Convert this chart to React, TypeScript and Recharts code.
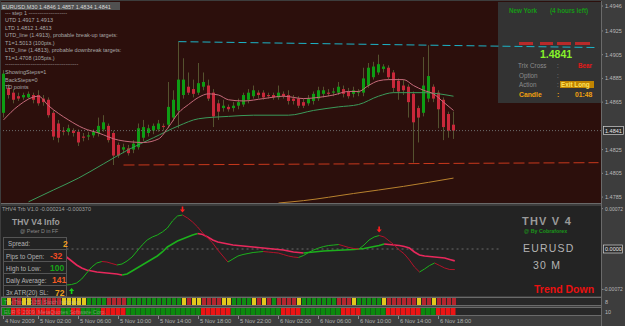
import React from 'react';
import { ComposedChart, BarChart, Bar, Line, XAxis, YAxis, ReferenceLine, Cell } from 'recharts';

const FONT = '"Liberation Sans", Arial, sans-serif';
const SLOTS = 120; // 91 bars + empty space on the right

// ---------- EURUSD M30 candles (bar 0 = 4 Nov 22:30) ----------
const opens = [
  1.4856, 1.4877, 1.4873, 1.4870, 1.4869, 1.4869, 1.4871, 1.4871, 1.4868, 1.4867,
  1.4856, 1.4847, 1.4841, 1.4840, 1.4841, 1.4840, 1.4836, 1.4836, 1.4837, 1.4839,
  1.4842, 1.4845, 1.4839, 1.4829, 1.4825, 1.4826, 1.4825, 1.4827, 1.4835, 1.4839,
  1.4841, 1.4842, 1.4845, 1.4846, 1.4852, 1.4858, 1.4871, 1.4878, 1.4876, 1.4873,
  1.4878, 1.4879, 1.4873, 1.4864, 1.4860, 1.4861, 1.4860, 1.4862, 1.4863, 1.4867,
  1.4870, 1.4873, 1.4873, 1.4871, 1.4871, 1.4869, 1.4872, 1.4871, 1.4868, 1.4868,
  1.4865, 1.4864, 1.4866, 1.4868, 1.4872, 1.4873, 1.4873, 1.4873, 1.4876, 1.4874,
  1.4872, 1.4873, 1.4873, 1.4879, 1.4886, 1.4890, 1.4893, 1.4894, 1.4890, 1.4883,
  1.4879, 1.4878, 1.4872, 1.4860, 1.4856, 1.4868, 1.4878, 1.4873, 1.4867, 1.4855,
  1.4846,
];
const highs = [
  1.4892, 1.4880, 1.4876, 1.4873, 1.4873, 1.4874, 1.4873, 1.4875, 1.4871, 1.4869,
  1.4858, 1.4850, 1.4844, 1.4846, 1.4843, 1.4842, 1.4839, 1.4840, 1.4842, 1.4852,
  1.4854, 1.4847, 1.4841, 1.4831, 1.4830, 1.4829, 1.4833, 1.4847, 1.4850, 1.4846,
  1.4847, 1.4850, 1.4847, 1.4882, 1.4875, 1.4916, 1.4902, 1.4890, 1.4884, 1.4898,
  1.4890, 1.4884, 1.4876, 1.4867, 1.4867, 1.4863, 1.4865, 1.4868, 1.4873, 1.4876,
  1.4879, 1.4875, 1.4875, 1.4873, 1.4873, 1.4879, 1.4874, 1.4875, 1.4871, 1.4870,
  1.4868, 1.4871, 1.4874, 1.4878, 1.4878, 1.4876, 1.4877, 1.4882, 1.4879, 1.4877,
  1.4878, 1.4876, 1.4894, 1.4898, 1.4899, 1.4905, 1.4897, 1.4896, 1.4892, 1.4885,
  1.4884, 1.4880, 1.4874, 1.4862, 1.4903, 1.4913, 1.4880, 1.4875, 1.4869, 1.4857,
  1.4857,
];
const lows = [
  1.4852, 1.4868, 1.4864, 1.4866, 1.4867, 1.4868, 1.4864, 1.4862, 1.4862, 1.4852,
  1.4833, 1.4831, 1.4837, 1.4837, 1.4836, 1.4828, 1.4832, 1.4833, 1.4835, 1.4836,
  1.4840, 1.4831, 1.4812, 1.4818, 1.4822, 1.4820, 1.4822, 1.4825, 1.4832, 1.4836,
  1.4838, 1.4840, 1.4841, 1.4843, 1.4849, 1.4843, 1.4868, 1.4871, 1.4869, 1.4871,
  1.4875, 1.4866, 1.4844, 1.4850, 1.4857, 1.4857, 1.4857, 1.4859, 1.4861, 1.4864,
  1.4868, 1.4868, 1.4867, 1.4868, 1.4867, 1.4867, 1.4868, 1.4863, 1.4863, 1.4860,
  1.4860, 1.4862, 1.4863, 1.4866, 1.4869, 1.4870, 1.4870, 1.4871, 1.4869, 1.4868,
  1.4869, 1.4870, 1.4870, 1.4877, 1.4884, 1.4888, 1.4890, 1.4884, 1.4873, 1.4867,
  1.4871, 1.4852, 1.4814, 1.4831, 1.4853, 1.4865, 1.4865, 1.4843, 1.4833, 1.4835,
  1.4834,
];
const closes = [
  1.4889, 1.4871, 1.4867, 1.4868, 1.4871, 1.4872, 1.4867, 1.4864, 1.4865, 1.4854,
  1.4836, 1.4835, 1.4840, 1.4843, 1.4839, 1.4831, 1.4835, 1.4837, 1.4840, 1.4845,
  1.4848, 1.4833, 1.4820, 1.4820, 1.4827, 1.4822, 1.4830, 1.4843, 1.4844, 1.4843,
  1.4845, 1.4847, 1.4844, 1.4861, 1.4867, 1.4884, 1.4884, 1.4873, 1.4872, 1.4881,
  1.4882, 1.4868, 1.4853, 1.4857, 1.4862, 1.4859, 1.4862, 1.4865, 1.4871, 1.4873,
  1.4875, 1.4871, 1.4869, 1.4870, 1.4869, 1.4873, 1.4870, 1.4866, 1.4866, 1.4862,
  1.4862, 1.4868, 1.4872, 1.4875, 1.4875, 1.4872, 1.4874, 1.4878, 1.4872, 1.4870,
  1.4875, 1.4874, 1.4885, 1.4894, 1.4895, 1.4897, 1.4895, 1.4886, 1.4877, 1.4874,
  1.4875, 1.4865, 1.4848, 1.4852, 1.4879, 1.4887, 1.4868, 1.4859, 1.4844, 1.4841,
  1.4841,
];

// moving averages, read as [bar, price] anchor points
const pinkMA: [number, number][] = [
  [0, 1.4850], [3, 1.4862], [7, 1.4870], [9, 1.4862], [13, 1.4850], [16, 1.4843], [19, 1.4839],
  [23, 1.4833], [28, 1.4831], [31, 1.4834], [33, 1.4844], [35, 1.4856], [37, 1.4863], [39, 1.4869],
  [41, 1.4872], [43, 1.4871], [45, 1.4867], [48, 1.4866], [52, 1.4868], [56, 1.4870], [60, 1.4868],
  [63, 1.4869], [66, 1.4871], [69, 1.4874], [71, 1.4874], [73, 1.4879], [75, 1.4883], [77, 1.4884],
  [80, 1.4884], [82, 1.4879], [84, 1.4875], [86, 1.4872], [88, 1.4865], [90, 1.4858],
];
const greenMA: [number, number][] = [
  [5, 1.4781], [10, 1.4791], [15, 1.4801], [20, 1.4813], [25, 1.4825], [30, 1.4835], [35, 1.4845],
  [39, 1.4851], [45, 1.4853], [50, 1.4854], [57, 1.4854], [62, 1.4858], [67, 1.4861], [71, 1.4863],
  [75, 1.4870], [78, 1.4873], [84, 1.4873], [90, 1.4870],
];
const orangeMA: [number, number][] = [
  [55, 1.4780], [60, 1.4782], [70, 1.4788], [80, 1.4794], [90, 1.4801],
];
const utdLine: [number, number][] = [[35, 1.4916], [119, 1.4911]];
const ltdLine: [number, number][] = [[24, 1.4812], [119, 1.4814]];
const bidPrice = 1.4841;
const priceTicks = [1.4946, 1.4925, 1.4905, 1.4885, 1.4865, 1.4825, 1.4805, 1.4785];

// ---------- THV Trix oscillator ----------
const N13 = [null, null, null, null, null, null, null, null, null, null, null, null, null];
const trixFast: (number | null)[] = [
  ...N13,
  -0.000648, -0.000639, -0.000612, -0.000540, -0.000432, -0.000324, -0.000252, -0.000225, -0.000234, -0.000261,
  -0.000288, -0.000270, -0.000216, -0.000144, -0.000036, 0.000072, 0.000162, 0.000216, 0.000252, 0.000306,
  0.000378, 0.000504, 0.000594, 0.000612, 0.000558, 0.000486, 0.000396, 0.000288, 0.000198, 0.000108,
  -0.000018, -0.000126, -0.000234, -0.000180, -0.000126, -0.000099, -0.000081, -0.000063, -0.000054, -0.000045,
  -0.000054, -0.000063, -0.000072, -0.000099, -0.000126, -0.000144, -0.000153, -0.000117, -0.000063, -0.000018,
  0.000018, 0.000045, 0.000063, 0.000072, 0.000081, 0.000054, 0.000027, 0.000009, 0.000000, 0.000072,
  0.000162, 0.000216, 0.000243, 0.000216, 0.000144, 0.000072, -0.000018, -0.000090, -0.000198, -0.000324,
  -0.000414, -0.000360, -0.000297, -0.000252, -0.000297, -0.000342, -0.000369, -0.000370,
];
const trixSlow: (number | null)[] = [
  ...N13,
  -0.000144, -0.000216, -0.000288, -0.000342, -0.000378, -0.000396, -0.000414, -0.000423, -0.000432, -0.000441,
  -0.000450, -0.000468, -0.000450, -0.000396, -0.000342, -0.000288, -0.000234, -0.000180, -0.000126, -0.000054,
  0.000036, 0.000090, 0.000144, 0.000180, 0.000216, 0.000252, 0.000279, 0.000261, 0.000216, 0.000162,
  0.000126, 0.000108, 0.000090, 0.000072, 0.000063, 0.000054, 0.000045, 0.000036, 0.000027, 0.000018,
  0.000009, 0.000000, -0.000009, -0.000018, -0.000036, -0.000054, -0.000063, -0.000072, -0.000063, -0.000054,
  -0.000045, -0.000036, -0.000032, -0.000027, -0.000022, -0.000018, -0.000014, -0.000009, 0.000000, 0.000009,
  0.000027, 0.000045, 0.000063, 0.000090, 0.000081, 0.000072, 0.000063, 0.000045, 0.000018, -0.000054,
  -0.000108, -0.000126, -0.000135, -0.000144, -0.000153, -0.000162, -0.000189, -0.000214,
];
const sellArrows: [number, number][] = [[36, 0.000711], [75, 0.000351]];
const buyArrows: [number, number][] = [[14, -0.000756]];
const indTicks = [0.000727, 0, -0.000727];
const indTickLabels = ['0.00072', '0.0000', '-0.00072'];

// ---------- state bars (G green, R red, Y yellow) ----------
const stateRow1 =
  'G' + 'Y' + 'RR' + 'YY' + 'RRRRRR' + 'YYYYY' + 'GGGG' + 'RRRR' + 'GGGGGGGGGGG' + 'Y' + 'R' + 'YY' +
  'RRRR' + 'YY' + 'GGGG' + 'Y' + 'R' + 'Y' + 'R' + 'G' + 'RRRR' + 'Y' + 'GGGGGGG' + 'RRR' + 'Y' +
  'GGGGG' + 'Y' + 'RRRRRR' + 'Y' + 'RR' + 'Y' + 'RRRR';
const stateRow2 =
  'GG' + 'RRRRRRRRRR' + 'GG' + 'RR' + 'GGGG' + 'RRRRR' + 'GGGGGGGGGGGGGGG' + 'RRRRRR' + 'GGGGGGGGGG' +
  'RRRR' + 'GGGGGGGG' + 'RRRR' + 'GGGGG' + 'RRRRRRR' + 'GGG' + 'RRRR';

const timeTickIdx = [0, 7, 15, 23, 31, 39, 47, 55, 63, 71, 79, 87];
const timeTickLabels = ['4 Nov 2009', '5 Nov 02:00', '5 Nov 06:00', '5 Nov 10:00', '5 Nov 14:00', '5 Nov 18:00',
  '5 Nov 22:00', '6 Nov 02:00', '6 Nov 06:00', '6 Nov 10:00', '6 Nov 14:00', '6 Nov 18:00'];

// ---------- data tables ----------
const priceData: any[] = Array.from({ length: SLOTS }, (_, k) => {
  const row: any = { k };
  if (k < opens.length) {
    row.o = opens[k]; row.h = highs[k]; row.l = lows[k]; row.c = closes[k];
    row.hl = [lows[k], highs[k]];
  }
  return row;
});
pinkMA.forEach(([k, v]) => { priceData[k].pink = v; });
greenMA.forEach(([k, v]) => { priceData[k].gma = v; });
orangeMA.forEach(([k, v]) => { priceData[k].oma = v; });
utdLine.forEach(([k, v]) => { priceData[k].utd = v; });
ltdLine.forEach(([k, v]) => { priceData[k].ltd = v; });

const indData: any[] = Array.from({ length: SLOTS }, (_, k) => ({ k }));
sellArrows.forEach(([k, v]) => { indData[k].sell = v; });
buyArrows.forEach(([k, v]) => { indData[k].buy = v; });

type Run = { key: string; dir: number; fast: boolean };
function addRuns(vals: (number | null)[], name: string, fast: boolean, out: Run[]) {
  let cur: Run | null = null;
  let n = 0;
  for (let i = 0; i < vals.length - 1; i++) {
    const a = vals[i], b = vals[i + 1];
    if (a == null || b == null) { cur = null; continue; }
    const dir = b >= a ? 1 : -1;
    if (!cur || cur.dir !== dir) {
      cur = { key: name + n++, dir, fast };
      out.push(cur);
      indData[i][cur.key] = a;
    }
    indData[i + 1][cur.key] = b;
  }
}
const runs: Run[] = [];
addRuns(trixSlow, 'slow', false, runs);
addRuns(trixFast, 'fast', true, runs);

const rowData = Array.from({ length: SLOTS }, (_, k) => ({
  k,
  one: k < stateRow1.length ? 1 : 0,
  s1: stateRow1[k] || '',
  s2: stateRow2[k] || '',
}));
const c1: Record<string, string> = { G: '#0f8c12', R: '#b4262e', Y: '#e2c81c', '': 'none' };
const c2: Record<string, string> = { G: '#0b8a0d', R: '#ee1414', '': 'none' };

// ---------- shapes ----------
const Candle = (props: any) => {
  const { x, y, width, height, payload } = props;
  if (!payload || payload.o == null) return null;
  const { o, h, l, c } = payload;
  const span = h - l;
  const py = (p: number) => (span > 0 ? y + ((h - p) / span) * height : y);
  const cx = x + width / 2;
  const top = py(Math.max(o, c));
  const bot = py(Math.min(o, c));
  const up = c > o;
  return (
    <g>
      <line x1={cx} x2={cx} y1={y} y2={y + height} stroke="#55522f" strokeWidth={1} />
      <rect x={x} y={top} width={width} height={Math.max(1, bot - top)} fill={up ? '#0e9c14' : '#c9283a'} />
    </g>
  );
};

const PriceTick = (p: any) => {
  const { x, y, payload } = p;
  const v = payload.value as number;
  if (v === bidPrice) {
    return (
      <g>
        <rect x={x - 1.5} y={y - 4} width={20} height={8} fill="#2e2e2e" stroke="#d0d0d0" strokeWidth={0.7} />
        <text x={x} y={y + 2} fontSize={5.5} fill="#e6e6e6" fontFamily={FONT}>{v.toFixed(4)}</text>
      </g>
    );
  }
  return (
    <g>
      <line x1={x - 4} x2={x - 2} y1={y} y2={y} stroke="#8a8a8a" />
      <text x={x} y={y + 2} fontSize={5.5} fill="#b8b8b8" fontFamily={FONT}>{v.toFixed(4)}</text>
    </g>
  );
};

const IndTick = (p: any) => {
  const { x, y, payload } = p;
  const v = payload.value as number;
  const label = indTickLabels[indTicks.indexOf(v)];
  if (v === 0) {
    return (
      <g>
        <rect x={x - 1.5} y={y - 4} width={19} height={8} fill="#2e2e2e" stroke="#d0d0d0" strokeWidth={0.7} />
        <text x={x} y={y + 2} fontSize={5.5} fill="#e6e6e6" fontFamily={FONT}>{label}</text>
      </g>
    );
  }
  return (
    <g>
      <line x1={x - 4} x2={x - 2} y1={y} y2={y} stroke="#8a8a8a" />
      <text x={v < 0 ? x - 2 : x} y={y + 2} fontSize={5} fill="#b8b8b8" fontFamily={FONT}>{label}</text>
    </g>
  );
};

const ArrowDown = (p: any) => {
  const { cx, cy, value, index } = p;
  if (value == null || cy == null || isNaN(cy)) return <g key={'ad' + index} />;
  return (
    <path key={'ad' + index} fill="#ff1e1e"
      d={`M${cx - 0.8},${cy - 3} L${cx + 0.8},${cy - 3} L${cx + 0.8},${cy} L${cx + 2.6},${cy} L${cx},${cy + 3} L${cx - 2.6},${cy} L${cx - 0.8},${cy} Z`} />
  );
};
const ArrowUp = (p: any) => {
  const { cx, cy, value, index } = p;
  if (value == null || cy == null || isNaN(cy)) return <g key={'au' + index} />;
  return (
    <path key={'au' + index} fill="#18d018"
      d={`M${cx - 0.8},${cy + 3} L${cx + 0.8},${cy + 3} L${cx + 0.8},${cy} L${cx + 2.6},${cy} L${cx},${cy - 3} L${cx - 2.6},${cy} L${cx - 0.8},${cy} Z`} />
  );
};

const TimeTick = (p: any) => {
  const { x, y, payload } = p;
  const i = timeTickIdx.indexOf(payload.value);
  if (i < 0) return null;
  return (
    <g>
      <line x1={x} x2={x} y1={y + 1} y2={y + 4} stroke="#8a8a8a" />
      <text x={x + 1.5} y={y + 8} fontSize={5.8} fill="#b0b0b0" fontFamily={FONT}>{timeTickLabels[i]}</text>
    </g>
  );
};

const T = ({ x, y, s = 5.5, c = '#a8a8a8', b = false, children, ls = 0, op = 1 }: any) => (
  <text x={x} y={y} fontSize={s} fill={c} fontWeight={b ? 'bold' : 'normal'} fontFamily={FONT}
    letterSpacing={ls} opacity={op}>{children}</text>
);

export default function App() {
  return (
    <div style={{ position: 'fixed', left: 0, top: 0, width: 625, height: 326, background: '#3d3d3d', overflow: 'hidden' }}>
      {/* backgrounds */}
      <svg width={625} height={326} style={{ position: 'absolute', left: 0, top: 0 }}>
        <rect x={1} y={1} width={600} height={202} fill="#2c0f0c" />
        <rect x={498} y={2} width={103} height={101} fill="#333333" />
        <rect x={1} y={206} width={600} height={90} fill="#232323" />
        <rect x={1} y={297} width={600} height={9} fill="#282828" />
        <rect x={1} y={307} width={600} height={9} fill="#282828" />
      </svg>

      {/* price chart */}
      <div style={{ position: 'absolute', left: 0, top: 0 }}>
        <ComposedChart width={625} height={204} data={priceData} margin={{ top: 2, right: 1, bottom: 1, left: 1 }}>
          <XAxis dataKey="k" hide />
          <YAxis orientation="right" width={23} domain={[1.478, 1.49494]} allowDataOverflow
            ticks={[...priceTicks, bidPrice]} interval={0} tick={<PriceTick />} axisLine={false}
            tickLine={false} tickSize={2} tickMargin={2} />
          <ReferenceLine y={bidPrice} stroke="#6e6e6e" strokeDasharray="1 2" />
          <Bar dataKey="hl" barSize={3} shape={<Candle />} isAnimationActive={false} />
          <Line dataKey="oma" stroke="#b8822e" dot={false} connectNulls type="monotone" isAnimationActive={false} />
          <Line dataKey="gma" stroke="#3b9a5a" dot={false} connectNulls type="monotone" isAnimationActive={false} />
          <Line dataKey="pink" stroke="#c56a7a" dot={false} connectNulls type="monotone" isAnimationActive={false} />
          <Line dataKey="ltd" stroke="#c8381c" strokeDasharray="11 4" dot={false} connectNulls type="linear" isAnimationActive={false} />
          <Line dataKey="utd" stroke="#1cb4c8" strokeDasharray="8 4" dot={false} connectNulls type="linear" isAnimationActive={false} />
        </ComposedChart>
      </div>

      {/* THV trix panel */}
      <div style={{ position: 'absolute', left: 0, top: 204 }}>
        <ComposedChart width={625} height={93} data={indData} margin={{ top: 2, right: 1, bottom: 1, left: 1 }}>
          <XAxis dataKey="k" hide />
          <YAxis orientation="right" width={23} domain={[-0.000846, 0.000774]} allowDataOverflow
            ticks={indTicks} interval={0} tick={<IndTick />} axisLine={false} tickLine={false}
            tickSize={2} tickMargin={2} />
          <ReferenceLine segment={[{ x: 13, y: 0 }, { x: 99, y: 0 }]} stroke="#6a6a6a" strokeDasharray="2 3" />
          {runs.map((r) => (
            <Line key={r.key} dataKey={r.key} dot={false} isAnimationActive={false} type="linear"
              stroke={r.dir > 0 ? '#1cb01c' : r.fast ? '#b3122a' : '#e8285c'}
              strokeWidth={r.fast ? 1 : 1.6} />
          ))}
          <Line dataKey="sell" stroke="none" dot={<ArrowDown />} activeDot={false} isAnimationActive={false} />
          <Line dataKey="buy" stroke="none" dot={<ArrowUp />} activeDot={false} isAnimationActive={false} />
        </ComposedChart>
      </div>

      {/* state row 1 */}
      <div style={{ position: 'absolute', left: 0, top: 298 }}>
        <BarChart width={625} height={7} data={rowData} margin={{ top: 0, right: 24, bottom: 0, left: 1 }}>
          <XAxis dataKey="k" hide />
          <YAxis hide domain={[0, 1]} />
          <Bar dataKey="one" barSize={4} isAnimationActive={false}>
            {rowData.map((r, i) => <Cell key={i} fill={c1[r.s1]} />)}
          </Bar>
        </BarChart>
      </div>

      {/* state row 2 + time axis */}
      <div style={{ position: 'absolute', left: 0, top: 308 }}>
        <BarChart width={625} height={18} data={rowData} margin={{ top: 0, right: 24, bottom: 0, left: 1 }}>
          <XAxis dataKey="k" height={11} ticks={timeTickIdx} interval={0} tick={<TimeTick />}
            axisLine={false} tickLine={false} tickSize={0} tickMargin={0} />
          <YAxis hide domain={[0, 1]} />
          <Bar dataKey="one" barSize={5} isAnimationActive={false}>
            {rowData.map((r, i) => <Cell key={i} fill={c2[r.s2]} />)}
          </Bar>
        </BarChart>
      </div>

      {/* texts and frames */}
      <svg width={625} height={326} style={{ position: 'absolute', left: 0, top: 0, pointerEvents: 'none' }}>
        <line x1={601.5} x2={601.5} y1={1} y2={326} stroke="#6a6a6a" />
        <line x1={1} x2={601} y1={203.5} y2={203.5} stroke="#6a6a6a" />
        <rect x={1.5} y={297.5} width={600} height={8} fill="none" stroke="#6a6a6a" />
        <rect x={1.5} y={307.5} width={600} height={8} fill="none" stroke="#6a6a6a" />

        {/* header & TD text */}
        <rect x={1} y={2} width={119} height={8} fill="#505050" />
        <T x={2} y={8.5} c="#d8d8d8">EURUSD,M30  1.4846 1.4857 1.4834 1.4841</T>
        <T x={5} y={15}>---    step 1    ---------------------</T>
        <T x={5} y={22}>UTD  1.4917  1.4913</T>
        <T x={5} y={29.5}>LTD  1.4812  1.4813</T>
        <T x={5} y={37}>UTD_line (1.4913), probable break-up targets:</T>
        <T x={5} y={44.5}>T1=1.5013 (100pts.)</T>
        <T x={5} y={52}>LTD_line (1.4813), probable downbreak targets:</T>
        <T x={5} y={59.5}>T1=1.4708 (105pts.)</T>
        <T x={5} y={66}>----------------------------------------</T>
        <T x={5} y={74}>ShowingSteps=1</T>
        <T x={5} y={81.5}>BackSteps=0</T>
        <T x={5} y={89}>TD points</T>

        {/* session panel */}
        <T x={509} y={13} s={6.3} b c="#169a16">New York</T>
        <T x={550} y={13} s={6.3} b c="#169a16">(4 hours left)</T>
        <rect x={519} y={42} width={14} height={3} fill="#b82a2a" />
        <rect x={540} y={42} width={13} height={3} fill="#b82a2a" />
        <rect x={557} y={42} width={14} height={3} fill="#b82a2a" />
        <rect x={575} y={42} width={15} height={3} fill="#b82a2a" />
        <T x={540} y={58} s={10.5} b c="#86f22a">1.4841</T>
        <T x={518} y={68} s={6.3} c="#8c8c8c">Trix Cross</T>
        <T x={557} y={68} s={6.3} c="#8c8c8c">:</T>
        <T x={578} y={68} s={6.3} b c="#e31818">Bear</T>
        <T x={519} y={78} s={6.3} c="#8c8c8c">Option</T>
        <T x={557} y={78} s={6.3} c="#8c8c8c">:</T>
        <T x={519} y={87} s={6.3} c="#8c8c8c">Action</T>
        <T x={557} y={87} s={6.3} c="#8c8c8c">:</T>
        <rect x={560} y={81} width={34} height={7} fill="#c08400" />
        <T x={561} y={87} s={6.3} b c="#ffe35a">Exit Long</T>
        <T x={519} y={97} s={6.8} b c="#f0a010">Candle</T>
        <T x={557} y={97} s={6.8} b c="#f0a010">:</T>
        <T x={575} y={97} s={6.8} b c="#f0a010">01:48</T>

        {/* THV info table */}
        <T x={2} y={210.5} c="#a0a0a0">THV4 Trb V1.0 -0.000214 -0.000370</T>
        <T x={12} y={225} s={8.5} b c="#9c9c9c">THV  V4  Info</T>
        <T x={20} y={232.5} s={5.3} c="#8c8c8c">@ Peter D in FF</T>
        <rect x={3.5} y={237.5} width={63} height={12} fill="none" stroke="#555" />
        <rect x={3.5} y={249.5} width={63} height={12} fill="none" stroke="#555" />
        <rect x={3.5} y={261.5} width={63} height={12} fill="none" stroke="#555" />
        <rect x={3.5} y={273.5} width={63} height={12} fill="none" stroke="#555" />
        <rect x={3.5} y={285.5} width={63} height={11} fill="none" stroke="#555" />
        <T x={8} y={246} s={6.3} c="#b4b4b4">Spread:</T>
        <T x={63} y={246.5} s={8.5} b c="#f0a020">2</T>
        <T x={6} y={258.5} s={6.3} c="#b4b4b4">Pips to Open:</T>
        <T x={50} y={259} s={8.5} b c="#f04a22">-32</T>
        <T x={6} y={270.5} s={6.3} c="#b4b4b4">High to Low:</T>
        <T x={50} y={271} s={8.5} b c="#18a418">100</T>
        <T x={6} y={282.5} s={6.3} c="#b4b4b4">Daily Average:</T>
        <T x={52} y={283} s={8.5} b c="#f05a22">141</T>
        <T x={6} y={295} s={6.3} c="#b4b4b4">3x ATR(20) SL:</T>
        <T x={55} y={295.5} s={8.5} b c="#f0a020">72</T>

        {/* THV logo */}
        <T x={522} y={225} s={11} b c="#9a9a9a" ls={1.2}>THV V 4</T>
        <T x={524} y={232.5} s={5.3} b c="#1a961a">@ By Cobraforex</T>
        <T x={523} y={252} s={10.5} c="#b4b4b4" ls={1.2}>EURUSD</T>
        <T x={533} y={269} s={10.5} c="#b4b4b4" ls={1.2}>30 M</T>
        <T x={534} y={293} s={10.5} b c="#ea1010">Trend Down</T>

        {/* state rows overlay text */}
        <T x={4} y={304} s={5.5} c="#c8c8c8" op={0.45}>Trix   Trix   (20,35)   Stoch Indicator</T>
        <T x={4} y={314} s={5.5} c="#c8c8c8" op={0.45}>EUR   © 2009, MetaQuotes Software Corp.</T>
        <T x={605} y={304} s={5.5} c="#b8b8b8">8</T>
        <T x={605} y={314} s={5.5} c="#b8b8b8">10</T>
      </svg>
    </div>
  );
}
